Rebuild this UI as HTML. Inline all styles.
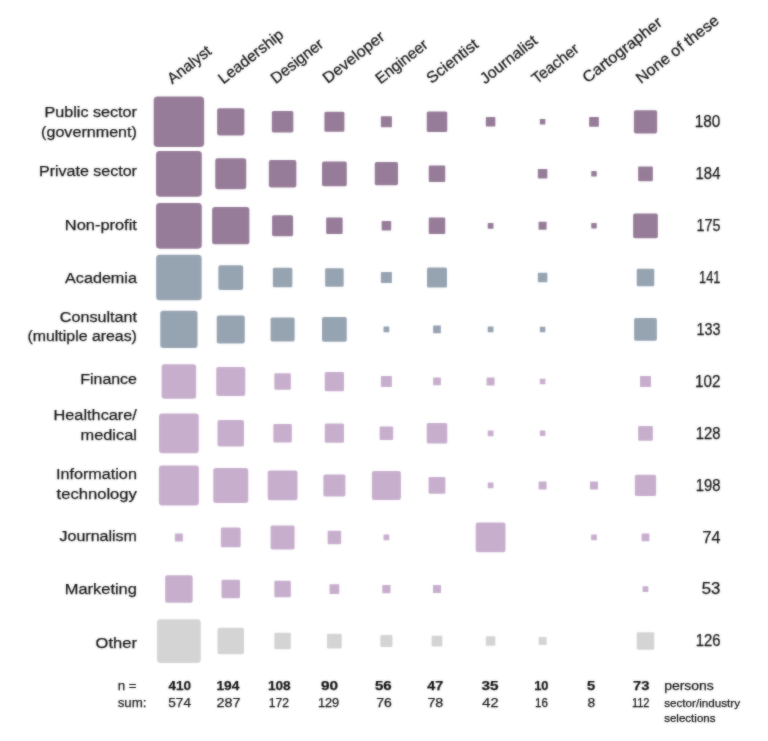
<!DOCTYPE html>
<html lang="en"><head><meta charset="utf-8"><title>Roles by sector</title>
<style>html,body{margin:0;padding:0;background:#fff}svg{display:block}text{font-family:"Liberation Sans",sans-serif;fill:#111;stroke:#111;stroke-width:0.25px}</style></head><body>
<svg width="768" height="741" viewBox="0 0 768 741">
<defs><filter id="soft" x="0" y="0" width="768" height="741" filterUnits="userSpaceOnUse"><feGaussianBlur in="SourceGraphic" stdDeviation="0.8" result="b"/><feComposite in="SourceGraphic" in2="b" operator="arithmetic" k1="0" k2="0.5" k3="0.5" k4="0"/></filter></defs>
<rect width="768" height="741" fill="#fff"/>
<g filter="url(#soft)">
<g fill="#967b98">
<rect x="153.68" y="96.57" width="50.45" height="50.45" rx="3.94"/>
<rect x="217.12" y="108.17" width="27.25" height="27.25" rx="2.13"/>
<rect x="271.85" y="111.05" width="21.50" height="21.50" rx="1.68"/>
<rect x="324.40" y="111.80" width="20.00" height="20.00" rx="1.56"/>
<rect x="380.90" y="116.30" width="11.00" height="11.00" rx="0.86"/>
<rect x="426.75" y="111.55" width="20.50" height="20.50" rx="1.60"/>
<rect x="485.85" y="117.05" width="9.50" height="9.50" rx="0.74"/>
<rect x="539.85" y="119.05" width="5.50" height="5.50" rx="0.43"/>
<rect x="589.12" y="116.92" width="9.75" height="9.75" rx="0.76"/>
<rect x="633.88" y="110.17" width="23.25" height="23.25" rx="1.81"/>
</g>
<g fill="#967b98">
<rect x="156.03" y="150.88" width="45.75" height="45.75" rx="3.57"/>
<rect x="215.25" y="158.25" width="31.00" height="31.00" rx="2.42"/>
<rect x="268.85" y="160.00" width="27.50" height="27.50" rx="2.15"/>
<rect x="322.02" y="161.38" width="24.75" height="24.75" rx="1.93"/>
<rect x="374.77" y="162.12" width="23.25" height="23.25" rx="1.81"/>
<rect x="428.75" y="165.50" width="16.50" height="16.50" rx="1.29"/>
<rect x="537.85" y="169.00" width="9.50" height="9.50" rx="0.74"/>
<rect x="591.25" y="171.00" width="5.50" height="5.50" rx="0.43"/>
<rect x="638.12" y="166.38" width="14.75" height="14.75" rx="1.15"/>
</g>
<g fill="#967b98">
<rect x="156.03" y="202.88" width="45.75" height="45.75" rx="3.57"/>
<rect x="212.12" y="207.12" width="37.25" height="37.25" rx="2.91"/>
<rect x="272.10" y="215.25" width="21.00" height="21.00" rx="1.64"/>
<rect x="326.15" y="217.50" width="16.50" height="16.50" rx="1.29"/>
<rect x="381.65" y="221.00" width="9.50" height="9.50" rx="0.74"/>
<rect x="428.75" y="217.50" width="16.50" height="16.50" rx="1.29"/>
<rect x="487.73" y="222.88" width="5.75" height="5.75" rx="0.45"/>
<rect x="538.60" y="221.75" width="8.00" height="8.00" rx="0.62"/>
<rect x="591.25" y="223.00" width="5.50" height="5.50" rx="0.43"/>
<rect x="633.12" y="213.38" width="24.75" height="24.75" rx="1.93"/>
</g>
<g fill="#96a3b1">
<rect x="156.15" y="254.85" width="45.50" height="45.50" rx="3.55"/>
<rect x="218.38" y="265.23" width="24.75" height="24.75" rx="1.93"/>
<rect x="272.85" y="267.85" width="19.50" height="19.50" rx="1.52"/>
<rect x="325.15" y="268.35" width="18.50" height="18.50" rx="1.44"/>
<rect x="380.90" y="272.10" width="11.00" height="11.00" rx="0.86"/>
<rect x="427.00" y="267.60" width="20.00" height="20.00" rx="1.56"/>
<rect x="537.85" y="272.85" width="9.50" height="9.50" rx="0.74"/>
<rect x="636.75" y="268.85" width="17.50" height="17.50" rx="1.36"/>
</g>
<g fill="#96a3b1">
<rect x="160.28" y="310.77" width="37.25" height="37.25" rx="2.91"/>
<rect x="216.75" y="315.40" width="28.00" height="28.00" rx="2.18"/>
<rect x="270.60" y="317.40" width="24.00" height="24.00" rx="1.87"/>
<rect x="322.02" y="317.02" width="24.75" height="24.75" rx="1.93"/>
<rect x="383.52" y="326.52" width="5.75" height="5.75" rx="0.45"/>
<rect x="433.12" y="325.52" width="7.75" height="7.75" rx="0.60"/>
<rect x="487.73" y="326.52" width="5.75" height="5.75" rx="0.45"/>
<rect x="539.85" y="326.65" width="5.50" height="5.50" rx="0.43"/>
<rect x="634.12" y="318.02" width="22.75" height="22.75" rx="1.77"/>
</g>
<g fill="#c8aecd">
<rect x="161.65" y="364.25" width="34.50" height="34.50" rx="2.69"/>
<rect x="216.25" y="367.00" width="29.00" height="29.00" rx="2.26"/>
<rect x="274.35" y="373.25" width="16.50" height="16.50" rx="1.29"/>
<rect x="324.77" y="371.88" width="19.25" height="19.25" rx="1.50"/>
<rect x="380.90" y="376.00" width="11.00" height="11.00" rx="0.86"/>
<rect x="433.12" y="377.62" width="7.75" height="7.75" rx="0.60"/>
<rect x="486.60" y="377.50" width="8.00" height="8.00" rx="0.62"/>
<rect x="539.85" y="378.75" width="5.50" height="5.50" rx="0.43"/>
<rect x="640.00" y="376.00" width="11.00" height="11.00" rx="0.86"/>
</g>
<g fill="#c8aecd">
<rect x="159.03" y="413.38" width="39.75" height="39.75" rx="3.10"/>
<rect x="217.50" y="420.00" width="26.50" height="26.50" rx="2.07"/>
<rect x="273.35" y="424.00" width="18.50" height="18.50" rx="1.44"/>
<rect x="324.77" y="423.62" width="19.25" height="19.25" rx="1.50"/>
<rect x="379.65" y="426.50" width="13.50" height="13.50" rx="1.05"/>
<rect x="426.75" y="423.00" width="20.50" height="20.50" rx="1.60"/>
<rect x="487.73" y="430.38" width="5.75" height="5.75" rx="0.45"/>
<rect x="539.85" y="430.50" width="5.50" height="5.50" rx="0.43"/>
<rect x="638.12" y="425.88" width="14.75" height="14.75" rx="1.15"/>
</g>
<g fill="#c8aecd">
<rect x="158.90" y="465.40" width="40.00" height="40.00" rx="3.12"/>
<rect x="213.25" y="467.90" width="35.00" height="35.00" rx="2.73"/>
<rect x="267.73" y="470.52" width="29.75" height="29.75" rx="2.32"/>
<rect x="323.40" y="474.40" width="22.00" height="22.00" rx="1.72"/>
<rect x="371.90" y="470.90" width="29.00" height="29.00" rx="2.26"/>
<rect x="428.62" y="477.02" width="16.75" height="16.75" rx="1.31"/>
<rect x="487.73" y="482.52" width="5.75" height="5.75" rx="0.45"/>
<rect x="538.60" y="481.40" width="8.00" height="8.00" rx="0.62"/>
<rect x="590.00" y="481.40" width="8.00" height="8.00" rx="0.62"/>
<rect x="634.88" y="474.77" width="21.25" height="21.25" rx="1.66"/>
</g>
<g fill="#c8aecd">
<rect x="174.90" y="533.40" width="8.00" height="8.00" rx="0.62"/>
<rect x="220.88" y="527.52" width="19.75" height="19.75" rx="1.54"/>
<rect x="270.60" y="525.40" width="24.00" height="24.00" rx="1.87"/>
<rect x="327.65" y="530.65" width="13.50" height="13.50" rx="1.05"/>
<rect x="383.52" y="534.52" width="5.75" height="5.75" rx="0.45"/>
<rect x="475.73" y="522.52" width="29.75" height="29.75" rx="2.32"/>
<rect x="591.12" y="534.52" width="5.75" height="5.75" rx="0.45"/>
<rect x="641.62" y="533.52" width="7.75" height="7.75" rx="0.60"/>
</g>
<g fill="#c8aecd">
<rect x="165.15" y="575.35" width="27.50" height="27.50" rx="2.15"/>
<rect x="221.50" y="579.85" width="18.50" height="18.50" rx="1.44"/>
<rect x="274.35" y="580.85" width="16.50" height="16.50" rx="1.29"/>
<rect x="329.52" y="584.23" width="9.75" height="9.75" rx="0.76"/>
<rect x="382.27" y="584.98" width="8.25" height="8.25" rx="0.64"/>
<rect x="433.00" y="585.10" width="8.00" height="8.00" rx="0.62"/>
<rect x="642.62" y="586.23" width="5.75" height="5.75" rx="0.45"/>
</g>
<g fill="#d4d4d4">
<rect x="157.03" y="619.23" width="43.75" height="43.75" rx="3.41"/>
<rect x="217.50" y="627.85" width="26.50" height="26.50" rx="2.07"/>
<rect x="274.35" y="632.85" width="16.50" height="16.50" rx="1.29"/>
<rect x="327.02" y="633.73" width="14.75" height="14.75" rx="1.15"/>
<rect x="380.40" y="635.10" width="12.00" height="12.00" rx="0.94"/>
<rect x="431.62" y="635.73" width="10.75" height="10.75" rx="0.84"/>
<rect x="485.85" y="636.35" width="9.50" height="9.50" rx="0.74"/>
<rect x="538.60" y="637.10" width="8.00" height="8.00" rx="0.62"/>
<rect x="636.75" y="632.35" width="17.50" height="17.50" rx="1.36"/>
</g>
<text transform="translate(172.3,84.5) rotate(-38)" font-size="15.5" textLength="51" lengthAdjust="spacingAndGlyphs">Analyst</text>
<text transform="translate(223.3,84.5) rotate(-38)" font-size="15.5" textLength="78" lengthAdjust="spacingAndGlyphs">Leadership</text>
<text transform="translate(275.7,84.2) rotate(-38)" font-size="15.5" textLength="62" lengthAdjust="spacingAndGlyphs">Designer</text>
<text transform="translate(327.75,84.0) rotate(-38)" font-size="15.5" textLength="73.5" lengthAdjust="spacingAndGlyphs">Developer</text>
<text transform="translate(380.5,84.4) rotate(-38)" font-size="15.5" textLength="61.5" lengthAdjust="spacingAndGlyphs">Engineer</text>
<text transform="translate(431.5,83.9) rotate(-38)" font-size="15.5" textLength="61" lengthAdjust="spacingAndGlyphs">Scientist</text>
<text transform="translate(485.0,84.4) rotate(-38)" font-size="15.5" textLength="68" lengthAdjust="spacingAndGlyphs">Journalist</text>
<text transform="translate(536.7,84.6) rotate(-38)" font-size="15.5" textLength="55" lengthAdjust="spacingAndGlyphs">Teacher</text>
<text transform="translate(587.6,83.6) rotate(-38)" font-size="15.5" textLength="96" lengthAdjust="spacingAndGlyphs">Cartographer</text>
<text transform="translate(640.9,84.3) rotate(-38)" font-size="15.5" textLength="100.5" lengthAdjust="spacingAndGlyphs">None of these</text>
<text x="44.60" y="117.30" font-size="15.5" textLength="92.30" lengthAdjust="spacingAndGlyphs">Public sector</text>
<text x="41.10" y="136.90" font-size="15.5" textLength="95.80" lengthAdjust="spacingAndGlyphs">(government)</text>
<text x="39.00" y="176.25" font-size="15.5" textLength="97.90" lengthAdjust="spacingAndGlyphs">Private sector</text>
<text x="64.80" y="229.60" font-size="15.5" textLength="72.10" lengthAdjust="spacingAndGlyphs">Non-profit</text>
<text x="65.10" y="282.60" font-size="15.5" textLength="71.80" lengthAdjust="spacingAndGlyphs">Academia</text>
<text x="59.80" y="321.70" font-size="15.5" textLength="77.10" lengthAdjust="spacingAndGlyphs">Consultant</text>
<text x="27.50" y="341.10" font-size="15.5" textLength="109.40" lengthAdjust="spacingAndGlyphs">(multiple areas)</text>
<text x="80.30" y="383.80" font-size="15.5" textLength="56.60" lengthAdjust="spacingAndGlyphs">Finance</text>
<text x="53.50" y="420.20" font-size="15.5" textLength="83.40" lengthAdjust="spacingAndGlyphs">Healthcare/</text>
<text x="80.60" y="439.70" font-size="15.5" textLength="56.30" lengthAdjust="spacingAndGlyphs">medical</text>
<text x="55.90" y="478.90" font-size="15.5" textLength="81.00" lengthAdjust="spacingAndGlyphs">Information</text>
<text x="56.60" y="499.00" font-size="15.5" textLength="80.30" lengthAdjust="spacingAndGlyphs">technology</text>
<text x="59.50" y="541.30" font-size="15.5" textLength="77.40" lengthAdjust="spacingAndGlyphs">Journalism</text>
<text x="64.80" y="594.40" font-size="15.5" textLength="72.10" lengthAdjust="spacingAndGlyphs">Marketing</text>
<text x="95.60" y="648.20" font-size="15.5" textLength="41.30" lengthAdjust="spacingAndGlyphs">Other</text>
<text x="694.80" y="127.10" font-size="15.8" textLength="25.60" lengthAdjust="spacingAndGlyphs">180</text>
<text x="695.60" y="179.05" font-size="15.8" textLength="24.80" lengthAdjust="spacingAndGlyphs">184</text>
<text x="696.40" y="231.05" font-size="15.8" textLength="24.00" lengthAdjust="spacingAndGlyphs">175</text>
<text x="699.10" y="282.90" font-size="15.8" textLength="21.30" lengthAdjust="spacingAndGlyphs">141</text>
<text x="696.40" y="334.70" font-size="15.8" textLength="24.00" lengthAdjust="spacingAndGlyphs">133</text>
<text x="695.00" y="386.80" font-size="15.8" textLength="25.40" lengthAdjust="spacingAndGlyphs">102</text>
<text x="695.70" y="438.55" font-size="15.8" textLength="24.70" lengthAdjust="spacingAndGlyphs">128</text>
<text x="695.70" y="490.70" font-size="15.8" textLength="24.70" lengthAdjust="spacingAndGlyphs">198</text>
<text x="702.40" y="542.70" font-size="15.8" textLength="18.00" lengthAdjust="spacingAndGlyphs">74</text>
<text x="701.80" y="594.40" font-size="15.8" textLength="18.60" lengthAdjust="spacingAndGlyphs">53</text>
<text x="695.70" y="646.40" font-size="15.8" textLength="24.70" lengthAdjust="spacingAndGlyphs">126</text>
<text x="117.7" y="690.3" font-size="13.3" fill="#222">n =</text>
<text x="117.7" y="707.2" font-size="13.3" fill="#222">sum:</text>
<text x="168.40" y="690.3" font-size="13.3" font-weight="bold" fill="#111" textLength="22.50" lengthAdjust="spacingAndGlyphs">410</text>
<text x="216.50" y="690.3" font-size="13.3" font-weight="bold" fill="#111" textLength="22.80" lengthAdjust="spacingAndGlyphs">194</text>
<text x="267.90" y="690.3" font-size="13.3" font-weight="bold" fill="#111" textLength="22.80" lengthAdjust="spacingAndGlyphs">108</text>
<text x="321.10" y="690.3" font-size="13.3" font-weight="bold" fill="#111" textLength="17.00" lengthAdjust="spacingAndGlyphs">90</text>
<text x="374.90" y="690.3" font-size="13.3" font-weight="bold" fill="#111" textLength="16.70" lengthAdjust="spacingAndGlyphs">56</text>
<text x="427.20" y="690.3" font-size="13.3" font-weight="bold" fill="#111" textLength="16.00" lengthAdjust="spacingAndGlyphs">47</text>
<text x="481.40" y="690.3" font-size="13.3" font-weight="bold" fill="#111" textLength="17.00" lengthAdjust="spacingAndGlyphs">35</text>
<text x="534.20" y="690.3" font-size="13.3" font-weight="bold" fill="#111" textLength="14.30" lengthAdjust="spacingAndGlyphs">10</text>
<text x="587.00" y="690.3" font-size="13.3" font-weight="bold" fill="#111" textLength="8.20" lengthAdjust="spacingAndGlyphs">5</text>
<text x="633.00" y="690.3" font-size="13.3" font-weight="bold" fill="#111" textLength="16.40" lengthAdjust="spacingAndGlyphs">73</text>
<text x="168.30" y="707.2" font-size="13.3" fill="#222" textLength="22.70" lengthAdjust="spacingAndGlyphs">574</text>
<text x="216.40" y="707.2" font-size="13.3" fill="#222" textLength="24.00" lengthAdjust="spacingAndGlyphs">287</text>
<text x="268.80" y="707.2" font-size="13.3" fill="#222" textLength="20.30" lengthAdjust="spacingAndGlyphs">172</text>
<text x="317.90" y="707.2" font-size="13.3" fill="#222" textLength="21.30" lengthAdjust="spacingAndGlyphs">129</text>
<text x="376.20" y="707.2" font-size="13.3" fill="#222" textLength="15.50" lengthAdjust="spacingAndGlyphs">76</text>
<text x="427.40" y="707.2" font-size="13.3" fill="#222" textLength="15.90" lengthAdjust="spacingAndGlyphs">78</text>
<text x="482.30" y="707.2" font-size="13.3" fill="#222" textLength="16.20" lengthAdjust="spacingAndGlyphs">42</text>
<text x="535.10" y="707.2" font-size="13.3" fill="#222" textLength="12.80" lengthAdjust="spacingAndGlyphs">16</text>
<text x="587.60" y="707.2" font-size="13.3" fill="#222" textLength="7.70" lengthAdjust="spacingAndGlyphs">8</text>
<text x="631.90" y="707.2" font-size="13.3" fill="#222" textLength="17.60" lengthAdjust="spacingAndGlyphs">112</text>
<text x="664.2" y="690.3" font-size="13.5" fill="#222" textLength="49.6" lengthAdjust="spacingAndGlyphs">persons</text>
<text x="664.2" y="707.2" font-size="11.5" fill="#222" textLength="75.8" lengthAdjust="spacingAndGlyphs">sector/industry</text>
<text x="664.2" y="721.8" font-size="11.5" fill="#222" textLength="51.3" lengthAdjust="spacingAndGlyphs">selections</text>
</g>
</svg></body></html>
